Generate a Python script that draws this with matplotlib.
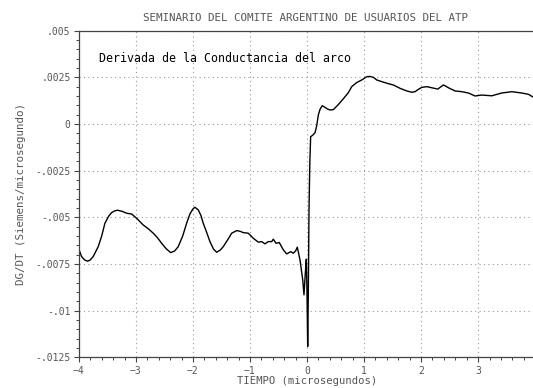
import matplotlib
matplotlib.use('Agg')
from matplotlib import pyplot as plt
from matplotlib.ticker import FixedLocator, FixedFormatter, AutoMinorLocator

# derivada de la conductancia del arco, dG/dt vs tiempo (us)
t = [-4.00, -3.953, -3.90, -3.847, -3.80, -3.749, -3.661, -3.60, -3.544, -3.48,
     -3.427, -3.37, -3.321, -3.24, -3.163, -3.075, -2.988, -2.872, -2.78, -2.696,
     -2.62, -2.549, -2.47, -2.391, -2.32, -2.258, -2.18, -2.111, -2.053, -2.00,
     -1.965, -1.907, -1.86, -1.819, -1.76, -1.702, -1.64, -1.584, -1.52, -1.468,
     -1.39, -1.321, -1.233, -1.17, -1.117, -1.030, -0.942, -0.854, -0.795, -0.737,
     -0.679, -0.619, -0.591, -0.544, -0.486, -0.416, -0.356, -0.286, -0.240, -0.200,
     -0.170, -0.123, -0.075, -0.053, -0.030, -0.012, 0.0, 0.012, 0.023, 0.035,
     0.050, 0.064, 0.10, 0.14, 0.17, 0.198, 0.23, 0.268, 0.316, 0.360,
     0.404, 0.462, 0.549, 0.637, 0.725, 0.784, 0.871, 0.96, 1.047, 1.10,
     1.163, 1.222, 1.31, 1.426, 1.514, 1.632, 1.749, 1.837, 1.895, 1.95,
     2.012, 2.10, 2.188, 2.293, 2.35, 2.392, 2.43, 2.48, 2.596, 2.714,
     2.83, 2.947, 3.064, 3.24, 3.415, 3.591, 3.766, 3.883, 3.953]
dgdt = [-0.00671, -0.0071, -0.00728, -0.00735, -0.00728, -0.0071, -0.00657, -0.0060, -0.00532, -0.00495,
        -0.00475, -0.00465, -0.00462, -0.00468, -0.00478, -0.00482, -0.00505, -0.00541, -0.00562, -0.00585,
        -0.0061, -0.00639, -0.00668, -0.00689, -0.00680, -0.00657, -0.0060, -0.00532, -0.00482, -0.00455,
        -0.00446, -0.0046, -0.0049, -0.00532, -0.0058, -0.0063, -0.0067, -0.00687, -0.00675, -0.00657,
        -0.0062, -0.00585, -0.00571, -0.00575, -0.00582, -0.00585, -0.00612, -0.00633, -0.0063, -0.00642,
        -0.0063, -0.0063, -0.00617, -0.00639, -0.00635, -0.00674, -0.00696, -0.00684, -0.00692, -0.0068,
        -0.0066, -0.00728, -0.00835, -0.00915, -0.0080, -0.00724, -0.00906, -0.01192, -0.00906, -0.0046,
        -0.0020, -0.00068, -0.0006, -0.00047, -0.0001, 0.00048, 0.0008, 0.00098, 0.00089, 0.0008,
        0.00075, 0.00077, 0.00104, 0.00135, 0.00168, 0.00200, 0.00222, 0.00236, 0.00253, 0.00255,
        0.0025, 0.00236, 0.00227, 0.00216, 0.00209, 0.00191, 0.00177, 0.0017, 0.00173, 0.00185,
        0.00196, 0.0020, 0.00194, 0.00187, 0.002, 0.00209, 0.00203, 0.00194, 0.00177, 0.00173,
        0.00166, 0.0015, 0.00155, 0.00151, 0.00166, 0.00173, 0.00166, 0.00159, 0.00146]

xticks = [-4, -3, -2, -1, 0, 1, 2, 3]
yticks = [0.005, 0.0025, 0, -0.0025, -0.005, -0.0075, -0.01, -0.0125]
ylabels = ['.005', '.0025', '0', '-.0025', '-.005', '-.0075', '-.01', '-.0125']

mono = 'DejaVu Sans Mono'
grey = '#555555'

fig = plt.figure(figsize=(5.33, 3.88), dpi=100)
ax = fig.add_axes([0.148, 0.079, 0.856, 0.842])

ax.plot(t, dgdt, color='black', lw=1.0)

ax.set_xlim(-4, 4)
ax.set_ylim(-0.0125, 0.005)
ax.xaxis.set_major_locator(FixedLocator(xticks))
ax.yaxis.set_major_locator(FixedLocator(yticks))
ax.yaxis.set_major_formatter(FixedFormatter(ylabels))
ax.xaxis.set_minor_locator(AutoMinorLocator(5))
ax.yaxis.set_minor_locator(AutoMinorLocator(5))

ax.grid(True, which='major', color='#999999', linestyle=(0, (1, 3)), lw=0.8)
ax.tick_params(which='both', direction='out', colors='#444444', labelcolor=grey,
               labelsize=7, top=False, right=False)
ax.tick_params(which='major', length=3.5, width=0.8, pad=2.5)
ax.tick_params(which='minor', length=2.2, width=0.7)
for lab in ax.get_xticklabels() + ax.get_yticklabels():
    lab.set_family(mono)

for side in ['left', 'bottom', 'top']:
    ax.spines[side].set_color('#444444')
    ax.spines[side].set_linewidth(0.9)
ax.spines['right'].set_visible(False)

ax.set_xlabel('TIEMPO (microsegundos)', family=mono, fontsize=7.6, color=grey, labelpad=0.5)
ax.set_ylabel('DG/DT (Siemens/microsegundo)', family=mono, fontsize=7.8, color=grey, labelpad=7)

fig.text(0.574, 0.953, 'SEMINARIO DEL COMITE ARGENTINO DE USUARIOS DEL ATP',
         family=mono, fontsize=7.8, color=grey, ha='center', va='center')
ax.text(0.045, 0.915, 'Derivada de la Conductancia del arco', transform=ax.transAxes,
        family=mono, fontsize=8.4, color='black', ha='left', va='center')

fig.savefig('out.png', dpi=100)
